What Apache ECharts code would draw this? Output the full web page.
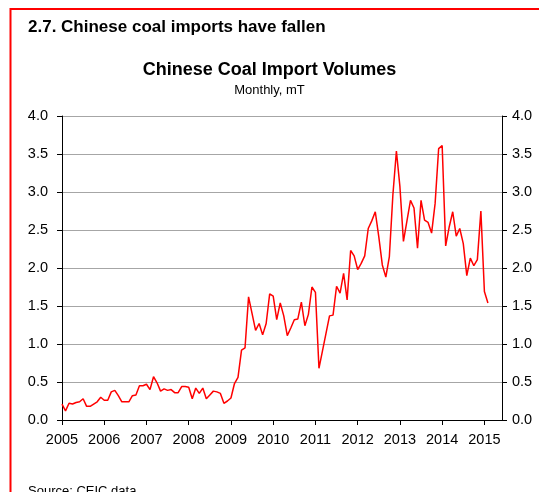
<!DOCTYPE html>
<html>
<head>
<meta charset="utf-8">
<title>Chinese Coal Import Volumes</title>
<script src="https://cdn.jsdelivr.net/npm/echarts@6/dist/echarts.min.js"></script>
<style>
  html, body { margin: 0; padding: 0; background: #fff; }
  #chart { width: 539px; height: 492px; }
</style>
</head>
<body>
<div id="chart"></div>
<script>
// Monthly Chinese coal imports, million tonnes, starting January 2005
const startYear = 2005;
const imports2005 = [0.21, 0.12, 0.22, 0.21, 0.23, 0.24, 0.28, 0.18, 0.18, 0.21, 0.24, 0.30];
const imports2006 = [0.26, 0.26, 0.37, 0.39, 0.32, 0.24, 0.24, 0.24, 0.32, 0.33, 0.45, 0.45];
const imports2007 = [0.47, 0.40, 0.57, 0.49, 0.38, 0.41, 0.39, 0.40, 0.36, 0.36, 0.44, 0.44];
const imports2008 = [0.43, 0.28, 0.42, 0.35, 0.42, 0.28, 0.33, 0.38, 0.37, 0.35, 0.22, 0.25];
const imports2009 = [0.29, 0.48, 0.56, 0.92, 0.95, 1.62, 1.40, 1.18, 1.27, 1.12, 1.27, 1.66];
const imports2010 = [1.63, 1.32, 1.54, 1.37, 1.11, 1.21, 1.32, 1.33, 1.55, 1.24, 1.39, 1.75];
const imports2011 = [1.68, 0.68, 0.91, 1.14, 1.37, 1.38, 1.76, 1.67, 1.93, 1.58, 2.23, 2.16];
const imports2012 = [1.98, 2.06, 2.16, 2.52, 2.62, 2.74, 2.41, 2.04, 1.88, 2.15, 2.96, 3.54];
const imports2013 = [3.07, 2.35, 2.62, 2.89, 2.79, 2.26, 2.89, 2.63, 2.60, 2.46, 2.85, 3.57];
const imports2014 = [3.61, 2.29, 2.54, 2.74, 2.42, 2.52, 2.32, 1.90, 2.13, 2.03, 2.11, 2.75];
const imports2015 = [1.69, 1.54];

const yTicks = ['0.0', '0.5', '1.0', '1.5', '2.0', '2.5', '3.0', '3.5', '4.0'];

const monthly = [].concat(imports2005, imports2006, imports2007, imports2008, imports2009,
  imports2010, imports2011, imports2012, imports2013, imports2014, imports2015);
// place each month on a fractional-year scale
const seriesData = monthly.map((v, i) => [startYear + i / 12, v]);

const FONT = '"Liberation Sans", Arial, sans-serif';
const chart = echarts.init(document.getElementById('chart'), null, { renderer: 'canvas' });

const yAxisCommon = {
  type: 'value',
  min: 0,
  max: 4,
  interval: 0.5,
  axisLine: { show: true, lineStyle: { color: '#000', width: 1 } },
  axisTick: { show: true, length: 5, lineStyle: { color: '#000' } },
  axisLabel: {
    color: '#000', fontFamily: FONT, fontSize: 14.5,
    formatter: v => yTicks[Math.round(v * 2)]
  }
};

chart.setOption({
  animation: false,
  backgroundColor: '#fff',
  title: [
    {
      text: '2.7. Chinese coal imports have fallen',
      left: 23, top: 14,
      textStyle: { fontFamily: FONT, fontSize: 17, fontWeight: 'bold', color: '#000' }
    },
    {
      text: 'Chinese Coal Import Volumes',
      left: 'center', top: 56,
      textStyle: { fontFamily: FONT, fontSize: 18, fontWeight: 'bold', color: '#000' }
    },
    {
      text: 'Monthly, mT',
      left: 'center', top: 79,
      textStyle: { fontFamily: FONT, fontSize: 13, fontWeight: 'normal', color: '#000' }
    },
    {
      text: 'Source: CEIC data',
      left: 23, top: 480,
      textStyle: { fontFamily: FONT, fontSize: 13, fontWeight: 'normal', color: '#000' }
    }
  ],
  graphic: [
    // red frame around the panel
    { type: 'line', shape: { x1: 10.5, y1: 9, x2: 539, y2: 9 }, style: { stroke: '#ff0000', lineWidth: 2 } },
    { type: 'line', shape: { x1: 10.5, y1: 8, x2: 10.5, y2: 492 }, style: { stroke: '#ff0000', lineWidth: 2 } }
  ],
  grid: { left: 62, right: 37, top: 116, bottom: 72, containLabel: false },
  xAxis: {
    type: 'value',
    min: startYear,
    max: 2015 + 5 / 12,
    interval: 1,
    splitLine: { show: false },
    axisLine: { show: true, onZero: false, lineStyle: { color: '#000', width: 1 } },
    axisTick: { show: true, length: 5, lineStyle: { color: '#000' } },
    axisLabel: {
      color: '#000', fontFamily: FONT, fontSize: 14.5, margin: 12,
      showMaxLabel: false,
      formatter: v => (Math.abs(v - Math.round(v)) < 1e-6 ? String(Math.round(v)) : '')
    }
  },
  yAxis: [
    Object.assign({}, yAxisCommon, {
      position: 'left',
      splitLine: { show: true, lineStyle: { color: '#a6a6a6', width: 1 } },
      axisLabel: Object.assign({}, yAxisCommon.axisLabel, { margin: 14 })
    }),
    Object.assign({}, yAxisCommon, {
      position: 'right',
      splitLine: { show: false },
      axisLabel: Object.assign({}, yAxisCommon.axisLabel, { margin: 10 })
    })
  ],
  series: [{
    name: 'Coal imports',
    type: 'line',
    data: seriesData,
    showSymbol: false,
    symbol: 'none',
    lineStyle: { color: '#ff0000', width: 1.5 },
    z: 3
  }]
});
</script>
</body>
</html>
